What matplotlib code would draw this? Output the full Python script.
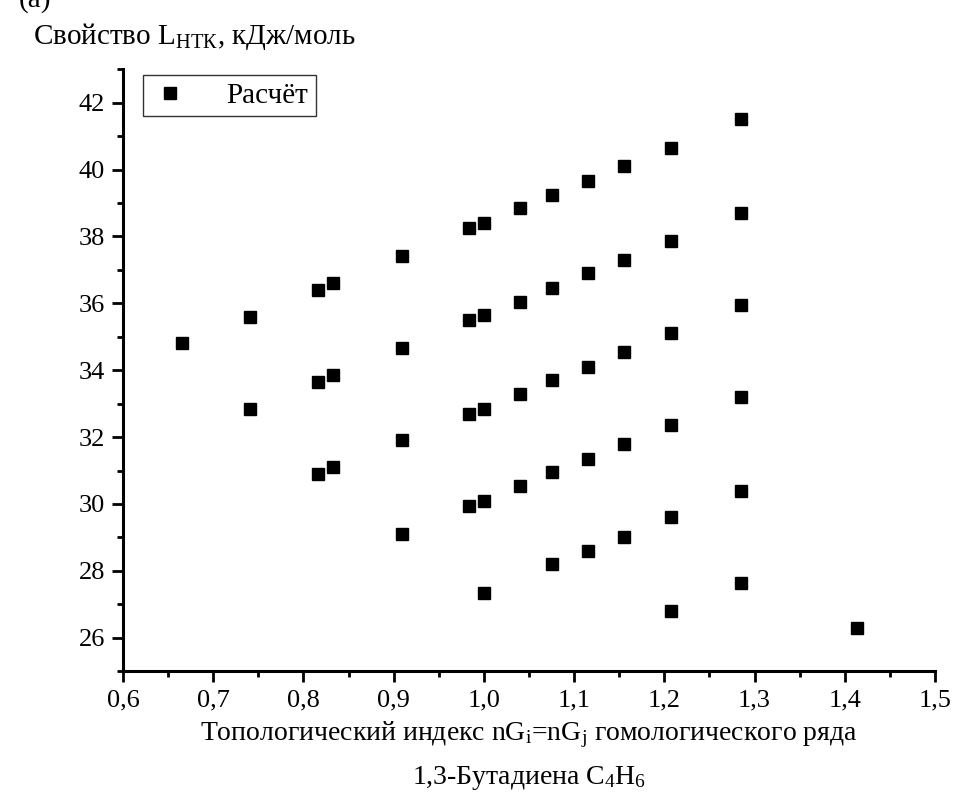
import numpy as np
import matplotlib.pyplot as plt
from matplotlib.ticker import MultipleLocator, FuncFormatter

plt.rcParams['font.family'] = ['Liberation Serif', 'DejaVu Serif']
plt.rcParams['mathtext.fontset'] = 'custom'
plt.rcParams['mathtext.rm'] = 'Liberation Serif'
plt.rcParams['mathtext.it'] = 'Liberation Serif'

# topological index values and computed property
x_vals = [0.665, 0.741, 0.741, 0.816, 0.833, 0.816, 0.833, 0.816, 0.833,
          0.909, 0.909, 0.909, 0.909,
          0.984, 1.0, 0.984, 1.0, 0.984, 1.0, 0.984, 1.0, 1.0,
          1.04, 1.04, 1.04, 1.04,
          1.076, 1.076, 1.076, 1.076, 1.076,
          1.115, 1.115, 1.115, 1.115, 1.115,
          1.155, 1.155, 1.155, 1.155, 1.155,
          1.207, 1.207, 1.207, 1.207, 1.207, 1.207,
          1.285, 1.285, 1.285, 1.285, 1.285, 1.285,
          1.414]
y_vals = [34.8, 35.6, 32.85, 36.4, 36.6, 33.65, 33.85, 30.9, 31.1,
          37.4, 34.65, 31.9, 29.1,
          38.25, 38.4, 35.5, 35.65, 32.7, 32.85, 29.95, 30.1, 27.35,
          38.85, 36.05, 33.3, 30.55,
          39.25, 36.45, 33.7, 30.95, 28.2,
          39.65, 36.9, 34.1, 31.35, 28.6,
          40.1, 37.3, 34.55, 31.8, 29.0,
          40.65, 37.85, 35.1, 32.35, 29.6, 26.8,
          41.5, 38.7, 35.95, 33.2, 30.4, 27.65,
          26.3]

fig = plt.figure(figsize=(9.54, 8), dpi=100)
ax = fig.add_axes([0.129, 0.161, 0.851, 0.7525])

ax.plot(x_vals, y_vals, ls='none', marker='s', ms=8.6, color='black',
        label='Расчёт')

ax.set_xlim(0.6, 1.5)
ax.set_ylim(25, 43)
ax.xaxis.set_major_locator(MultipleLocator(0.1))
ax.xaxis.set_minor_locator(MultipleLocator(0.05))
ax.yaxis.set_major_locator(MultipleLocator(2))
ax.yaxis.set_minor_locator(MultipleLocator(1))
ax.xaxis.set_major_formatter(FuncFormatter(lambda v, p: f'{v:.1f}'.replace('.', ',')))
ax.yaxis.set_major_formatter(FuncFormatter(lambda v, p: f'{v:.0f}'))

for s in ['top', 'right']:
    ax.spines[s].set_visible(False)
for s in ['left', 'bottom']:
    ax.spines[s].set_linewidth(2.2)

ax.tick_params(which='major', direction='out', length=8, width=2, labelsize=19, pad=5)
ax.tick_params(which='minor', direction='out', length=4.5, width=2)

ax.set_xlabel('Топологический индекс nG$_{\\mathrm{i}}$=nG$_{\\mathrm{j}}$ гомологического ряда\n'
              '1,3-Бутадиена C$_{\\mathrm{4}}$H$_{\\mathrm{6}}$',
              fontsize=20, linespacing=1.7, labelpad=6)

fig.text(0.035, 0.955, 'Свойство L$_{\\mathrm{НТК}}$, кДж/моль', fontsize=21,
         va='center', ha='left')
fig.text(0.02, 1.0, '(а)', fontsize=21, va='center', ha='left')

leg = ax.legend(loc='upper left', bbox_to_anchor=(0.025, 0.99), fontsize=21,
                frameon=True, fancybox=False, handletextpad=1.3,
                borderpad=0.25, borderaxespad=0, handlelength=1.3)
leg.get_frame().set_edgecolor('black')
leg.get_frame().set_linewidth(1)

fig.savefig('out.png', dpi=100)
